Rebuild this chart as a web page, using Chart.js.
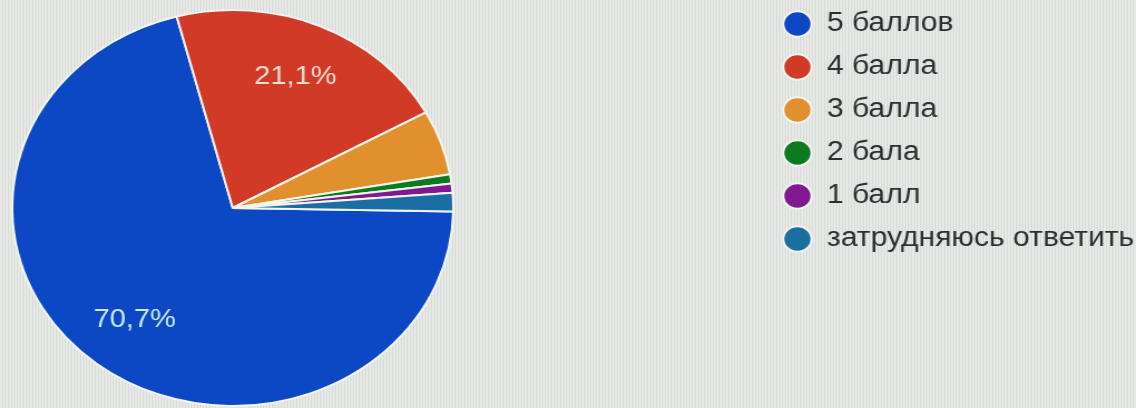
<!DOCTYPE html>
<html>
<head>
<meta charset="utf-8">
<script src="https://cdn.jsdelivr.net/npm/chart.js@4/dist/chart.umd.min.js"></script>
<style>
  html, body { margin: 0; padding: 0; background: #e1e4e1; overflow: hidden; }
  #stage { width: 1136px; height: 408px; overflow: hidden; position: relative;
    background: repeating-linear-gradient(90deg, #e5e8e5 0px, #e5e8e5 2px, #d9dcd9 2px, #d9dcd9 3px); }
  #wrap { position: absolute; left: 0; top: 0; width: 1020px; height: 408px;
    transform: scaleX(1.1137); transform-origin: 0 0; }
</style>
</head>
<body>
<div id="stage"><div id="wrap"><canvas id="c"></canvas></div></div>
<script>
// ---- data ----
const categories = ['5 баллов', '4 балла', '3 балла', '2 бала', '1 балл', 'затрудняюсь ответить'];
const percentValues = [70.7, 21.1, 5.3, 0.75, 0.75, 1.5];
const sliceColors = ['#0c47c4', '#d23a28', '#e0912e', '#0c7a1e', '#7e1a8e', '#1a6ea2'];
const labelColors = ['#c9ecf8', '#f8ddd4', '#ffffff', '#ffffff', '#ffffff', '#ffffff'];
const labelThreshold = 10;

const FONT = "'Liberation Sans', Arial, sans-serif";

// place the pie and legend like the reference (Google Forms layout)
const placePlugin = {
  id: 'place',
  afterLayout(chart) {
    const pie = { left: 10, top: 9, right: 408, bottom: 407 };
    chart.chartArea = { left: pie.left, top: pie.top, right: pie.right, bottom: pie.bottom,
      width: pie.right - pie.left, height: pie.bottom - pie.top };
    const lg = chart.legend;
    if (lg) {
      const w = lg.width, h = lg.height;
      lg.left = 703 - lg.options.labels.padding;
      lg.right = lg.left + w;
      lg.top = -5.5;
      lg.bottom = lg.top + h;
    }
  }
};

const sliceLabels = {
  id: 'sliceLabels',
  afterDatasetsDraw(chart) {
    const ctx = chart.ctx;
    const meta = chart.getDatasetMeta(0);
    const data = chart.data.datasets[0].data;
    ctx.save();
    ctx.font = '500 26px ' + FONT;
    ctx.textAlign = 'center';
    ctx.textBaseline = 'middle';
    meta.data.forEach((arc, i) => {
      if (data[i] < labelThreshold) return;
      const p = arc.getProps(['x', 'y', 'startAngle', 'endAngle', 'outerRadius'], true);
      const mid = (p.startAngle + p.endAngle) / 2;
      const r = p.outerRadius * 0.72;
      ctx.fillStyle = labelColors[i];
      ctx.fillText(data[i].toFixed(1).replace('.', ',') + '%', p.x + Math.cos(mid) * r, p.y + Math.sin(mid) * r);
    });
    ctx.restore();
  }
};

new Chart(document.getElementById('c'), {
  type: 'pie',
  data: {
    labels: categories,
    datasets: [{
      data: percentValues,
      backgroundColor: sliceColors,
      borderColor: '#f2f4f0',
      borderWidth: 2,
      clip: false
    }]
  },
  options: {
    responsive: true,
    maintainAspectRatio: false,
    animation: false,
    events: [],
    rotation: 91,
    plugins: {
      tooltip: { enabled: false },
      legend: {
        position: 'right',
        align: 'start',
        labels: {
          usePointStyle: true,
          pointStyle: 'circle',
          boxWidth: 26,
          boxHeight: 18,
          padding: 16,
          color: '#2b2f2f',
          font: { family: FONT, size: 27 }
        }
      }
    }
  },
  plugins: [placePlugin, sliceLabels]
});
</script>
</body>
</html>
